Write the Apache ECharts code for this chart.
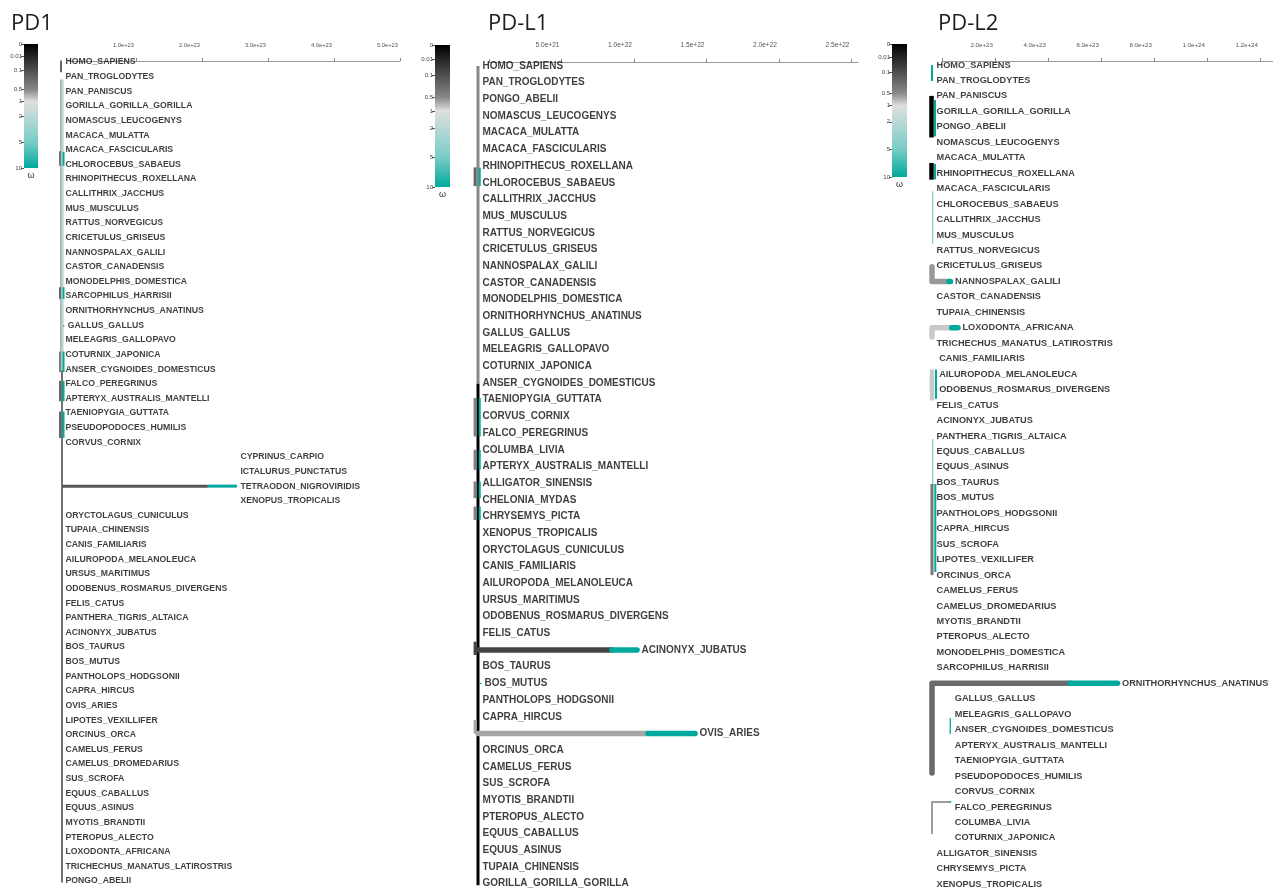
<!DOCTYPE html>
<html><head><meta charset="utf-8">
<script src="https://cdn.jsdelivr.net/npm/echarts@6/dist/echarts.min.js"></script>
<style>html,body{margin:0;padding:0;background:#fff}#c{width:1273px;height:892px}</style>
</head><body><div id="c"></div><script>
// ================= DATA =================
// omega colour scale (colour bar)
const OMEGA_TICKS = [0, 0.01, 0.1, 0.5, 1, 2, 5, 10];
const OMEGA_TICK_LABELS = ['0', '0.01', '0.1', '0.5', '1', '2', '5', '10'];
const OMEGA_GRADIENT_VALUES = [0, 0.5, 1, 5, 10];
const OMEGA_GRADIENT_COLORS = ['#000000', '#888888', '#DFDFDF', '#77CCC6', '#00A99D'];

// ---------- PD1 ----------
const PD1_TITLE = 'PD1';
const PD1_TICKS = [1e23, 2e23, 3e23, 4e23, 5e23];
const PD1_LEAVES = ['HOMO_SAPIENS','PAN_TROGLODYTES','PAN_PANISCUS','GORILLA_GORILLA_GORILLA','NOMASCUS_LEUCOGENYS','MACACA_MULATTA','MACACA_FASCICULARIS','CHLOROCEBUS_SABAEUS','RHINOPITHECUS_ROXELLANA','CALLITHRIX_JACCHUS','MUS_MUSCULUS','RATTUS_NORVEGICUS','CRICETULUS_GRISEUS','NANNOSPALAX_GALILI','CASTOR_CANADENSIS','MONODELPHIS_DOMESTICA','SARCOPHILUS_HARRISII','ORNITHORHYNCHUS_ANATINUS','GALLUS_GALLUS','MELEAGRIS_GALLOPAVO','COTURNIX_JAPONICA','ANSER_CYGNOIDES_DOMESTICUS','FALCO_PEREGRINUS','APTERYX_AUSTRALIS_MANTELLI','TAENIOPYGIA_GUTTATA','PSEUDOPODOCES_HUMILIS','CORVUS_CORNIX','CYPRINUS_CARPIO','ICTALURUS_PUNCTATUS','TETRAODON_NIGROVIRIDIS','XENOPUS_TROPICALIS','ORYCTOLAGUS_CUNICULUS','TUPAIA_CHINENSIS','CANIS_FAMILIARIS','AILUROPODA_MELANOLEUCA','URSUS_MARITIMUS','ODOBENUS_ROSMARUS_DIVERGENS','FELIS_CATUS','PANTHERA_TIGRIS_ALTAICA','ACINONYX_JUBATUS','BOS_TAURUS','BOS_MUTUS','PANTHOLOPS_HODGSONII','CAPRA_HIRCUS','OVIS_ARIES','LIPOTES_VEXILLIFER','ORCINUS_ORCA','CAMELUS_FERUS','CAMELUS_DROMEDARIUS','SUS_SCROFA','EQUUS_CABALLUS','EQUUS_ASINUS','MYOTIS_BRANDTII','PTEROPUS_ALECTO','LOXODONTA_AFRICANA','TRICHECHUS_MANATUS_LATIROSTRIS','PONGO_ABELII'];
// leaf depth (distance from root); leaves not listed sit at 0
const PD1_TIPS = {GALLUS_GALLUS: 3.5e21, CYPRINUS_CARPIO: 2.65e23, ICTALURUS_PUNCTATUS: 2.65e23, TETRAODON_NIGROVIRIDIS: 2.65e23, XENOPUS_TROPICALIS: 2.65e23};
// branch pieces: [omega, weightClass, x0, row0, x1, row1, ...]
const PD1_BRANCHES = [
  [0.21, 2, -1.5e21, 0.9, -1.5e21, 1.7],
  [0.5, 1, -1.5e21, 2.2, -1.5e21, 22.1],
  [2, 2, 1e21, 2.2, 1e21, 22.1],
  [0.3, 2, 0, 22.1, 0, 57.1],
  [0.3, 2, -3e21, 7.1, -3e21, 8.1], [10, 2, 2.3e21, 7.15, 2.3e21, 8.1],
  [0.21, 2, -3e21, 16.4, -3e21, 17.2], [10, 2, 2.3e21, 16.4, 2.3e21, 17.2],
  [10, 1, 1.5e21, 19.05, 3.5e21, 19.05],
  [0.4, 2, -3e21, 20.8, -3e21, 22.2], [10, 2, 2.3e21, 20.8, 2.3e21, 22.2],
  [0.21, 2, -3e21, 22.8, -3e21, 24.2], [10, 2, 2.3e21, 22.8, 2.3e21, 24.2],
  [0.21, 2, -3e21, 24.9, -3e21, 26.7], [10, 2, 2.3e21, 24.9, 2.3e21, 26.7],
  [0.122, 3, 0, 30, 2.21e23, 30], [10, 3, 2.21e23, 30, 2.65e23, 30]
];

// ---------- PD-L1 ----------
const PDL1_TITLE = 'PD-L1';
const PDL1_TICKS = [5e21, 1e22, 1.5e22, 2e22, 2.5e22];
const PDL1_LEAVES = ['HOMO_SAPIENS','PAN_TROGLODYTES','PONGO_ABELII','NOMASCUS_LEUCOGENYS','MACACA_MULATTA','MACACA_FASCICULARIS','RHINOPITHECUS_ROXELLANA','CHLOROCEBUS_SABAEUS','CALLITHRIX_JACCHUS','MUS_MUSCULUS','RATTUS_NORVEGICUS','CRICETULUS_GRISEUS','NANNOSPALAX_GALILI','CASTOR_CANADENSIS','MONODELPHIS_DOMESTICA','ORNITHORHYNCHUS_ANATINUS','GALLUS_GALLUS','MELEAGRIS_GALLOPAVO','COTURNIX_JAPONICA','ANSER_CYGNOIDES_DOMESTICUS','TAENIOPYGIA_GUTTATA','CORVUS_CORNIX','FALCO_PEREGRINUS','COLUMBA_LIVIA','APTERYX_AUSTRALIS_MANTELLI','ALLIGATOR_SINENSIS','CHELONIA_MYDAS','CHRYSEMYS_PICTA','XENOPUS_TROPICALIS','ORYCTOLAGUS_CUNICULUS','CANIS_FAMILIARIS','AILUROPODA_MELANOLEUCA','URSUS_MARITIMUS','ODOBENUS_ROSMARUS_DIVERGENS','FELIS_CATUS','ACINONYX_JUBATUS','BOS_TAURUS','BOS_MUTUS','PANTHOLOPS_HODGSONII','CAPRA_HIRCUS','OVIS_ARIES','ORCINUS_ORCA','CAMELUS_FERUS','SUS_SCROFA','MYOTIS_BRANDTII','PTEROPUS_ALECTO','EQUUS_CABALLUS','EQUUS_ASINUS','TUPAIA_CHINENSIS','GORILLA_GORILLA_GORILLA'];
const PDL1_TIPS = {ACINONYX_JUBATUS: 1.097e22, OVIS_ARIES: 1.497e22, BOS_MUTUS: 1.4e20};
const PDL1_BRANCHES = [
  [0.5, 3, 0, 1, 0, 20.05],
  [0, 3, 0, 20.05, 0, 50.1],
  [0.21, 3, -2e20, 7.08, -2e20, 8.2], [10, 2, 1.2e20, 7.1, 1.2e20, 8.2],
  [0.4, 3, -2e20, 20.9, -2e20, 23.2], [10, 2, 1.2e20, 20.9, 1.2e20, 23.2],
  [0.4, 3, -2e20, 24.0, -2e20, 25.2], [10, 2, 1.2e20, 24.0, 1.2e20, 25.2],
  [0.4, 3, -2e20, 25.9, -2e20, 26.9], [10, 2, 1.2e20, 25.9, 1.2e20, 26.9],
  [0.4, 3, -2e20, 27.4, -2e20, 28.2], [10, 2, 1.2e20, 27.4, 1.2e20, 28.2],
  [0.06, 3, -2e20, 35.5, -2e20, 36.3],
  [0.0625, 5, 0, 36, 9.24e21, 36], [10, 5, 9.24e21, 36, 1.097e22, 36],
  [10, 1, 0.7e20, 38, 2.5e20, 38],
  [0.65, 3, -2e20, 40.2, -2e20, 41],
  [0.647, 5, 0, 41, 1.172e22, 41], [10, 5, 1.172e22, 41, 1.497e22, 41]
];

// ---------- PD-L2 ----------
const PDL2_TITLE = 'PD-L2';
const PDL2_TICKS = [2e23, 4e23, 6e23, 8e23, 1e24, 1.2e24];
const PDL2_LEAVES = ['HOMO_SAPIENS','PAN_TROGLODYTES','PAN_PANISCUS','GORILLA_GORILLA_GORILLA','PONGO_ABELII','NOMASCUS_LEUCOGENYS','MACACA_MULATTA','RHINOPITHECUS_ROXELLANA','MACACA_FASCICULARIS','CHLOROCEBUS_SABAEUS','CALLITHRIX_JACCHUS','MUS_MUSCULUS','RATTUS_NORVEGICUS','CRICETULUS_GRISEUS','NANNOSPALAX_GALILI','CASTOR_CANADENSIS','TUPAIA_CHINENSIS','LOXODONTA_AFRICANA','TRICHECHUS_MANATUS_LATIROSTRIS','CANIS_FAMILIARIS','AILUROPODA_MELANOLEUCA','ODOBENUS_ROSMARUS_DIVERGENS','FELIS_CATUS','ACINONYX_JUBATUS','PANTHERA_TIGRIS_ALTAICA','EQUUS_CABALLUS','EQUUS_ASINUS','BOS_TAURUS','BOS_MUTUS','PANTHOLOPS_HODGSONII','CAPRA_HIRCUS','SUS_SCROFA','LIPOTES_VEXILLIFER','ORCINUS_ORCA','CAMELUS_FERUS','CAMELUS_DROMEDARIUS','MYOTIS_BRANDTII','PTEROPUS_ALECTO','MONODELPHIS_DOMESTICA','SARCOPHILUS_HARRISII','ORNITHORHYNCHUS_ANATINUS','GALLUS_GALLUS','MELEAGRIS_GALLOPAVO','ANSER_CYGNOIDES_DOMESTICUS','APTERYX_AUSTRALIS_MANTELLI','TAENIOPYGIA_GUTTATA','PSEUDOPODOCES_HUMILIS','CORVUS_CORNIX','FALCO_PEREGRINUS','COLUMBA_LIVIA','COTURNIX_JAPONICA','ALLIGATOR_SINENSIS','CHRYSEMYS_PICTA','XENOPUS_TROPICALIS'];
const PDL2_TIPS = {NANNOSPALAX_GALILI: 6.98e22, LOXODONTA_AFRICANA: 9.8e22, CANIS_FAMILIARIS: 1.0e22, AILUROPODA_MELANOLEUCA: 1.0e22, ODOBENUS_ROSMARUS_DIVERGENS: 1.0e22, ORNITHORHYNCHUS_ANATINUS: 7.0e23,
  GALLUS_GALLUS: 6.9e22, MELEAGRIS_GALLOPAVO: 6.9e22, ANSER_CYGNOIDES_DOMESTICUS: 6.9e22, APTERYX_AUSTRALIS_MANTELLI: 6.9e22, TAENIOPYGIA_GUTTATA: 6.9e22, PSEUDOPODOCES_HUMILIS: 6.9e22, CORVUS_CORNIX: 6.9e22, FALCO_PEREGRINUS: 6.9e22, COLUMBA_LIVIA: 6.9e22, COTURNIX_JAPONICA: 6.9e22};
const PDL2_BRANCHES = [
  [10, 2, 0, 1.0, 0, 2.03],
  [0, 4, -1.9e21, 3.0, -1.9e21, 5.69], [10, 2, 1.13e22, 3.26, 1.13e22, 5.62],
  [0, 4, -1.9e21, 7.34, -1.9e21, 8.42], [10, 2, 1.13e22, 7.4, 1.13e22, 8.4],
  [4, 1, 2.6e21, 9.17, 2.6e21, 12.57],
  [0.58, 5, 0, 14.05, 0, 15, 6.42e22, 15], [10, 5, 6.42e22, 15, 6.98e22, 15],
  [0.85, 5, 0, 18.6, 0, 18, 7.43e22, 18], [10, 5, 7.43e22, 18, 9.8e22, 18],
  [0.85, 4, 0, 20.7, 0, 22.7], [10, 2, 1.5e22, 20.7, 1.5e22, 22.6],
  [4, 1, 2.6e21, 25.2, 2.6e21, 28.2],
  [0.335, 3, 0, 28.1, 0, 34.0], [10, 2, 1.25e22, 28.1, 1.25e22, 33.8],
  [0.237, 5, 0, 46.8, 0, 41, 5.21e23, 41], [10, 5, 5.21e23, 41, 7.0e23, 41],
  [10, 1, 6.9e22, 43.26, 6.9e22, 44.3],
  [0.6, 2, 0, 50.74, 0, 48.68, 6.8e22, 48.68], [10, 2, 6.8e22, 48.68, 7.2e22, 48.68]
];

// ================= STYLE / LAYOUT =================
const BRANCH_WEIGHT = [
  {w: 1, cap: 'butt'}, {w: 1.3, cap: 'butt'}, {w: 2, cap: 'butt'},
  {w: 3, cap: 'butt'}, {w: 4.5, cap: 'butt'}, {w: 5.5, cap: 'round'}
];
const LABEL_FONT = '"Liberation Sans", Arial, Helvetica, sans-serif';

const PANELS = [
  {title: PD1_TITLE, leaves: PD1_LEAVES, tips: PD1_TIPS, branches: PD1_BRANCHES, ticks: PD1_TICKS, maxX: 5.0e23,
   L: {titleX: 11, titleY: 13, cb: [24, 44, 14, 124], axisX: 70, axisY: 51, rootX: 62, ppu: 66 / 1e23,
       rowY0: 62, rowH: 14.625, font: 8.7, tickFont: 5.8, gap: 3}},
  {title: PDL1_TITLE, leaves: PDL1_LEAVES, tips: PDL1_TIPS, branches: PDL1_BRANCHES, ticks: PDL1_TICKS, maxX: 2.545e22,
   L: {titleX: 488, titleY: 13, cb: [435, 45, 15, 142], axisX: 489, axisY: 52, rootX: 478, ppu: 14.5 / 1e21,
       rowY0: 66, rowH: 16.76, font: 10, tickFont: 6.6, gap: 4}},
  {title: PDL2_TITLE, leaves: PDL2_LEAVES, tips: PDL2_TIPS, branches: PDL2_BRANCHES, ticks: PDL2_TICKS, maxX: 1.249e24,
   L: {titleX: 938, titleY: 13, cb: [892, 44, 15, 133], axisX: 942, axisY: 51, rootX: 932, ppu: 26.5 / 1e23,
       rowY0: 65, rowH: 15.5, font: 9.2, tickFont: 6.2, gap: 4}}
];

// ================= SCALES =================
function omegaPos(w) { return Math.cbrt(w / 10); }            // pow(1/3) colour-bar scale
function hexRgb(h) { return [1, 3, 5].map(i => parseInt(h.substr(i, 2), 16)); }
function omegaColor(w) {
  const t = Math.cbrt(w);
  const d = OMEGA_GRADIENT_VALUES.map(Math.cbrt);
  let i = 0;
  while (i < d.length - 2 && t > d[i + 1]) i++;
  const f = Math.max(0, Math.min(1, (t - d[i]) / (d[i + 1] - d[i])));
  const a = hexRgb(OMEGA_GRADIENT_COLORS[i]), b = hexRgb(OMEGA_GRADIENT_COLORS[i + 1]);
  const c = a.map((v, k) => Math.round(v + (b[k] - v) * f));
  return 'rgb(' + c.join(',') + ')';
}
const GRADIENT_STOPS = OMEGA_GRADIENT_VALUES.map((v, i) => ({offset: omegaPos(v), color: OMEGA_GRADIENT_COLORS[i]}));
const CB_POS = OMEGA_TICKS.map(omegaPos);
function cbLabel(v) {
  let best = 0;
  CB_POS.forEach((p, i) => { if (Math.abs(p - v) < Math.abs(CB_POS[best] - v)) best = i; });
  return OMEGA_TICK_LABELS[best];
}
function pairs(a) { const out = []; for (let i = 0; i < a.length; i += 2) out.push([a[i], a[i + 1]]); return out; }

// ================= OPTION =================
const grid = [], xAxis = [], yAxis = [], series = [], title = [];
PANELS.forEach(p => {
  const L = p.L;
  title.push({text: p.title, left: L.titleX, top: L.titleY, padding: 0,
    textStyle: {fontFamily: '"Open Sans", "Noto Sans", sans-serif', fontSize: 22, fontWeight: 'normal', color: '#1e1e1e'}});

  // colour bar
  let g = grid.length;
  grid.push({left: L.cb[0], top: L.cb[1], width: L.cb[2], height: L.cb[3]});
  xAxis.push({gridIndex: g, type: 'value', min: 0, max: 1, position: 'bottom', name: 'ω', nameLocation: 'middle', nameGap: 3,
    nameTextStyle: {fontSize: 9, color: '#333', fontFamily: LABEL_FONT, verticalAlign: 'top'},
    axisLine: {show: false}, axisTick: {show: false}, axisLabel: {show: false}, splitLine: {show: false}});
  yAxis.push({gridIndex: g, type: 'value', min: 0, max: 1, inverse: true,
    axisLine: {show: false}, splitLine: {show: false},
    axisTick: {show: true, length: 3, customValues: CB_POS, lineStyle: {color: '#555'}},
    axisLabel: {customValues: CB_POS, formatter: cbLabel, fontSize: 6, color: '#444', margin: 2, fontFamily: LABEL_FONT}});
  series.push({type: 'custom', xAxisIndex: g, yAxisIndex: g, silent: true, data: [[0, 0]],
    renderItem: (params, api) => {
      const a = api.coord([0, 0]), b = api.coord([1, 1]);
      return {type: 'rect', shape: {x: a[0], y: a[1], width: b[0] - a[0], height: b[1] - a[1]},
        style: {fill: new echarts.graphic.LinearGradient(0, 0, 0, 1, GRADIENT_STOPS)}};
    }});

  // display axis (top)
  g = grid.length;
  grid.push({left: L.axisX, top: L.axisY, width: p.maxX * L.ppu, height: 10});
  xAxis.push({gridIndex: g, type: 'value', position: 'top', min: 0, max: p.maxX,
    axisLine: {show: true, lineStyle: {color: '#9a9a9a', width: 1}},
    axisTick: {show: true, length: 3, customValues: [0].concat(p.ticks), lineStyle: {color: '#888'}},
    axisLabel: {customValues: p.ticks, formatter: v => v.toExponential(1), align: 'right', padding: [0, 2, 0, 0],
      fontSize: L.tickFont, color: '#555', margin: 3, fontFamily: LABEL_FONT},
    splitLine: {show: false}});
  yAxis.push({gridIndex: g, type: 'value', min: 0, max: 1, show: false});

  // tree
  g = grid.length;
  const n = p.leaves.length;
  grid.push({left: L.rootX, top: L.rowY0 - L.rowH / 2, width: p.maxX * L.ppu, height: n * L.rowH});
  xAxis.push({gridIndex: g, type: 'value', min: 0, max: p.maxX, show: false});
  yAxis.push({gridIndex: g, type: 'value', min: 0.5, max: n + 0.5, inverse: true, show: false});
  series.push({type: 'lines', coordinateSystem: 'cartesian2d', xAxisIndex: g, yAxisIndex: g, polyline: true,
    clip: false, silent: true, lineStyle: {opacity: 1, join: 'round'},
    data: p.branches.map(b => ({coords: pairs(b.slice(2)),
      lineStyle: {color: omegaColor(b[0]), width: BRANCH_WEIGHT[b[1]].w, cap: BRANCH_WEIGHT[b[1]].cap, join: 'round', opacity: 1}}))});
  series.push({type: 'scatter', xAxisIndex: g, yAxisIndex: g, symbolSize: 1, clip: false, silent: true,
    itemStyle: {color: 'rgba(0,0,0,0)'},
    data: p.leaves.map((name, k) => [p.tips[name] || 0, k + 1, name]),
    label: {show: true, position: 'right', distance: L.gap, formatter: q => q.value[2],
      fontFamily: LABEL_FONT, fontWeight: 'bold', fontSize: L.font, color: '#0d0d0d'}});
});

const chart = echarts.init(document.getElementById('c'), null, {renderer: 'canvas'});
chart.setOption({animation: false, backgroundColor: '#fff', title, grid, xAxis, yAxis, series});
</script></body></html>
